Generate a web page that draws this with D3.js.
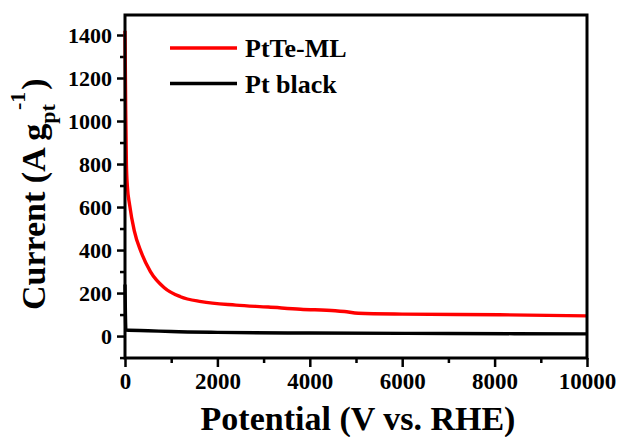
<!DOCTYPE html>
<html>
<head>
<meta charset="utf-8">
<script src="https://cdn.jsdelivr.net/npm/d3@7"></script>
<style>
  body { margin: 0; background: #fff; }
  text { font-family: "Liberation Serif", "Times New Roman", serif; font-weight: bold; fill: #000; }
</style>
</head>
<body>
<div id="chart"></div>
<script>
// data
const seriesNames = ["PtTe-ML", "Pt black"];
const seriesColors = ["#ff0000", "#000000"];

const ptteX = [0, 15, 30, 50, 100, 200, 350, 550, 850, 1200, 1650, 2400, 3100, 3800, 4550, 4750, 5050, 6000, 8100, 10000];
const ptteY = [1420, 1050, 800, 700, 610, 490, 390, 300, 225, 183, 160, 144, 135, 125, 118, 114, 106, 102, 99, 94];

const ptBlackX = [0, 20, 500, 1000, 2000, 4000, 7000, 10000];
const ptBlackY = [240, 28, 25, 21, 17, 14, 12, 10];

const xTicks = [0, 2000, 4000, 6000, 8000, 10000];
const xMinor = [1000, 3000, 5000, 7000, 9000];
const yTicks = [0, 200, 400, 600, 800, 1000, 1200, 1400];
const yMinor = [-100, 100, 300, 500, 700, 900, 1100, 1300];

// set the dimensions and margins of the graph
const margin = { top: 15, right: 33, bottom: 79, left: 125 },
    width = 620 - margin.left - margin.right,
    height = 437 - margin.top - margin.bottom;

const svg = d3.select("#chart")
    .append("svg")
    .attr("width", 620)
    .attr("height", 437);

const g = svg.append("g")
    .attr("transform", `translate(${margin.left},${margin.top})`);

const x = d3.scaleLinear().domain([0, 10000]).range([0, width]);
const y = d3.scaleLinear().domain([-102, 1493]).range([height, 0]);

// X axis with major and minor ticks
g.append("g")
    .attr("class", "xaxis")
    .attr("transform", `translate(0,${height})`)
    .call(d3.axisBottom(x).tickValues(xTicks).tickSize(9).tickPadding(6).tickFormat(d3.format("d")));
g.append("g")
    .attr("transform", `translate(0,${height})`)
    .call(d3.axisBottom(x).tickValues(xMinor).tickSize(5).tickFormat(""));

// Y axis
g.append("g")
    .attr("class", "yaxis")
    .call(d3.axisLeft(y).tickValues(yTicks).tickSize(8).tickPadding(5).tickFormat(d3.format("d")));
g.append("g")
    .call(d3.axisLeft(y).tickValues(yMinor).tickSize(5).tickFormat(""));

g.selectAll(".domain").remove();
g.selectAll(".tick line").attr("stroke", "#000").attr("stroke-width", 2.5);
g.selectAll(".tick text").style("font-family", "Liberation Serif").style("font-weight", "bold");
g.selectAll(".yaxis .tick text").style("font-size", "22px");
g.selectAll(".xaxis .tick text").style("font-size", "23px");

// the lines
const line = d3.line().curve(d3.curveMonotoneX);
const series = [
    { xs: ptteX, ys: ptteY },
    { xs: ptBlackX, ys: ptBlackY }
];
series.forEach(function (s, i) {
    g.append("path")
        .datum(s.xs.map(function (v, j) { return [x(v), y(s.ys[j])]; }))
        .attr("fill", "none")
        .attr("stroke", seriesColors[i])
        .attr("stroke-width", 3.4)
        .attr("d", line);
});

// frame
g.append("rect")
    .attr("width", width)
    .attr("height", height)
    .attr("fill", "none")
    .attr("stroke", "#000")
    .attr("stroke-width", 3);

// legend
const legend = svg.append("g");
seriesNames.forEach(function (name, i) {
    const ly = 48 + i * 35.5;
    legend.append("line")
        .attr("x1", 170).attr("x2", 237)
        .attr("y1", ly).attr("y2", ly)
        .attr("stroke", seriesColors[i])
        .attr("stroke-width", 3.4);
    legend.append("text")
        .attr("x", 245).attr("y", ly + 9)
        .style("font-size", "26px")
        .text(name);
});

// axis titles
svg.append("text")
    .attr("x", 358).attr("y", 430)
    .attr("text-anchor", "middle")
    .style("font-size", "34px")
    .text("Potential (V vs. RHE)");

const yt = svg.append("text")
    .attr("transform", "translate(45,310) rotate(-90)")
    .style("font-size", "34px");
yt.append("tspan").text("Current (A g");
yt.append("tspan").attr("dy", 10).style("font-size", "22px").text("pt");
yt.append("tspan").attr("dy", -30).attr("dx", -6).style("font-size", "22px").text("-1");
yt.append("tspan").attr("dy", 20).attr("dx", 2).text(")");
</script>
</body>
</html>
